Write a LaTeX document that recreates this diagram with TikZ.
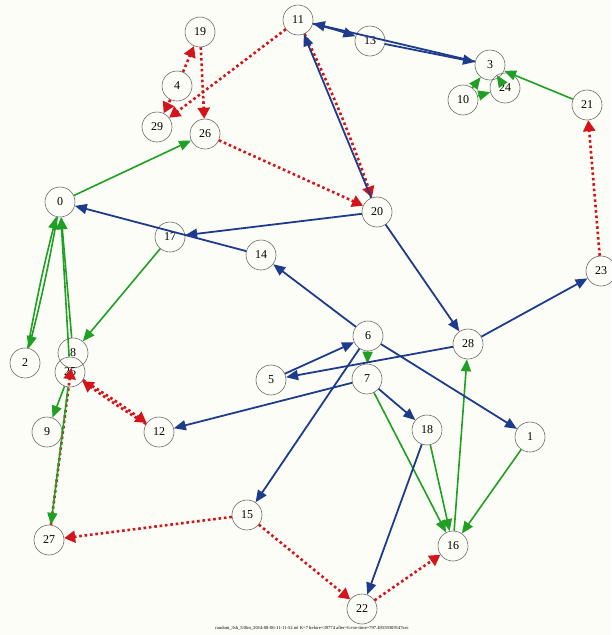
\documentclass[tikz,border=0pt]{standalone}
\usepackage{fontspec}
\setmainfont{Liberation Serif}
\usetikzlibrary{arrows.meta}
\definecolor{bgc}{HTML}{FDFDF7}
\definecolor{eblue}{HTML}{1E3C8C}
\definecolor{egreen}{HTML}{1FA024}
\definecolor{ered}{HTML}{D3141A}
\definecolor{ncirc}{HTML}{6A6A6A}
\begin{document}
\begin{tikzpicture}[x=1pt,y=-1pt,
  vtx/.style={circle,draw=ncirc,line width=0.6pt,minimum size=30pt,inner sep=0pt,font=\fontsize{12}{12}\selectfont},
  be/.style={draw=eblue,line width=1.8pt,-{Triangle[length=12pt,width=10pt]}},
  ge/.style={draw=egreen,line width=1.6pt,-{Triangle[length=12pt,width=10pt]}},
  re/.style={draw=ered,line width=2.6pt,dash pattern=on 2.6pt off 2.8pt,-{Triangle[length=11pt,width=12pt]}},
  bl/.style={bend left=2}]
\fill[bgc] (0,0) rectangle (611,635);
\useasboundingbox (0,0) rectangle (611,635);
% nodes
\node[vtx] (n0) at (60,202) {0};
\node[vtx] (n1) at (530,437) {1};
\node[vtx] (n2) at (25,363) {2};
\node[vtx] (n3) at (490,65) {3};
\node[vtx] (n4) at (177,86) {4};
\node[vtx] (n5) at (271,380) {5};
\node[vtx] (n6) at (368,336) {6};
\node[vtx] (n7) at (367,379) {7};
\node[vtx] (n8) at (73,353) {8};
\node[vtx] (n9) at (47,432) {9};
\node[vtx] (n10) at (463,100) {10};
\node[vtx] (n11) at (298,20) {11};
\node[vtx] (n12) at (159,432) {12};
\node[vtx] (n13) at (370,41) {13};
\node[vtx] (n14) at (261,255) {14};
\node[vtx] (n15) at (247,515) {15};
\node[vtx] (n16) at (453,546) {16};
\node[vtx] (n17) at (170,237) {17};
\node[vtx] (n18) at (427,430) {18};
\node[vtx] (n19) at (200,32) {19};
\node[vtx] (n20) at (377,212) {20};
\node[vtx] (n21) at (587,105) {21};
\node[vtx] (n22) at (362,609) {22};
\node[vtx] (n23) at (601,271) {23};
\node[vtx] (n24) at (505,88) {24};
\node[vtx] (n25) at (70,372) {25};
\node[vtx] (n26) at (205,134) {26};
\node[vtx] (n27) at (49,540) {27};
\node[vtx] (n28) at (468,344) {28};
\node[vtx] (n29) at (157,127) {29};
% red dotted edges
\draw[re] (n11) to[bend left=3] (n20);
\draw[re] (n26) -- (n20);
\draw[re] (n11) -- (n29);
\draw[re] (n4) -- (n29);
\draw[re] (n4) -- (n19);
\draw[re] (n19) -- (n26);
\draw[re] (n23) -- (n21);
\draw[re] (n15) -- (n27);
\draw[re] (n15) -- (n22);
\draw[re] (n22) -- (n16);
\draw[re] (n27) -- (n8);
\draw[re] (n25) to[bl] (n12);
\draw[re] (n12) to[bl] (n25);
% green edges
\draw[ge] (n0) -- (n26);
\draw[ge] (n21) -- (n3);
\draw[ge] (n10) -- (n3);
\draw[ge] (n10) -- (n24);
\draw[ge] (n3) -- (n24);
\draw[ge] (n17) -- (n8);
\draw[ge] (n0) to[bl] (n2);
\draw[ge] (n2) to[bl] (n0);
\draw[ge] (n8) -- (n0);
\draw[ge] (n25) -- (n0);
\draw[ge] (n25) -- (n27);
\draw[ge] (n25) -- (n9);
\draw[ge] (n6) -- (n7);
\draw[ge] (n7) -- (n16);
\draw[ge] (n18) -- (n16);
\draw[ge] (n16) -- (n28);
\draw[ge] (n1) -- (n16);
% blue edges
\draw[be] (n3) -- (n11);
\draw[be] (n11) to[bl] (n13);
\draw[be] (n13) -- (n3);
\draw[be] (n20) -- (n11);
\draw[be] (n20) -- (n17);
\draw[be] (n14) -- (n0);
\draw[be] (n6) -- (n14);
\draw[be] (n20) -- (n28);
\draw[be] (n28) -- (n23);
\draw[be] (n28) -- (n5);
\draw[be] (n5) -- (n6);
\draw[be] (n6) -- (n15);
\draw[be] (n6) -- (n1);
\draw[be] (n7) -- (n12);
\draw[be] (n7) -- (n18);
\draw[be] (n18) -- (n22);
% footer
\node[font=\fontsize{4.6}{5}\selectfont,inner sep=0pt] (foot) at (312,628) {random\_3sh\_530m\_2014-08-06-11-11-52.ml K=7 before=39774 after=6 exe-time=797.49559309147sec};
\end{tikzpicture}
\end{document}
